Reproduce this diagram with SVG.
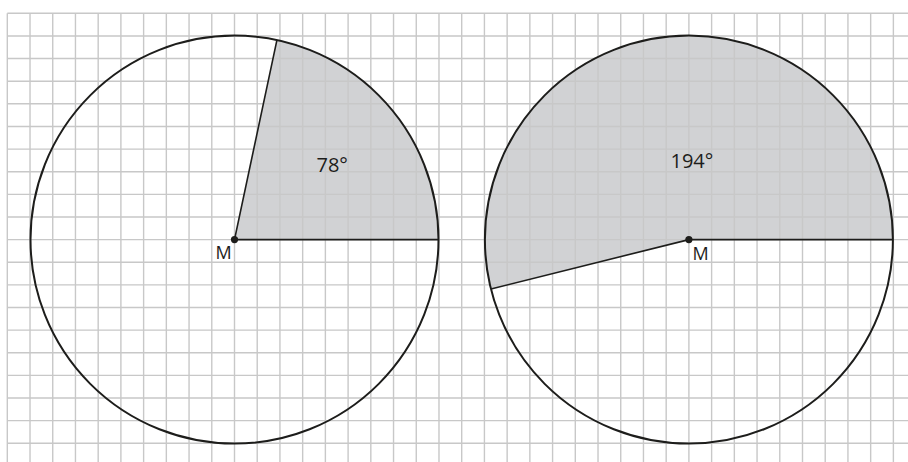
<svg xmlns="http://www.w3.org/2000/svg" width="908" height="462" viewBox="0 0 908 462">
<style>
.grid{stroke:#c8c8c8;stroke-width:1.4;fill:none}
.sector{fill:#d1d2d4;stroke:none}
.circle{fill:none;stroke:#1d1d1b;stroke-width:2}
.radius{stroke:#1d1d1b;stroke-width:1.6;fill:none}
.dot{fill:#1d1d1b}
.lbl{font-family:"Open Sans","Noto Sans",sans-serif;fill:#1d1d1b}
</style>
<rect width="908" height="462" fill="#ffffff"/>
<g id="sectors">
<path class="sector" d="M234.5,239.6 L438.5,239.6 A204,204 0 0 0 276.91,40.06 Z"/>
<path class="sector" d="M688.9,239.6 L892.9,239.6 A204,204 0 1 0 490.96,288.95 Z"/>
</g>
<g id="grid" class="grid">
<path d="M7.3,13.3V462M30.02,13.3V462M52.74,13.3V462M75.46,13.3V462M98.18,13.3V462M120.9,13.3V462M143.62,13.3V462M166.34,13.3V462M189.06,13.3V462M211.78,13.3V462M234.5,13.3V462M257.22,13.3V462M279.94,13.3V462M302.66,13.3V462M325.38,13.3V462M348.1,13.3V462M370.82,13.3V462M393.54,13.3V462M416.26,13.3V462M438.98,13.3V462M461.7,13.3V462M484.42,13.3V462M507.14,13.3V462M529.86,13.3V462M552.58,13.3V462M575.3,13.3V462M598.02,13.3V462M620.74,13.3V462M643.46,13.3V462M666.18,13.3V462M688.9,13.3V462M711.62,13.3V462M734.34,13.3V462M757.06,13.3V462M779.78,13.3V462M802.5,13.3V462M825.22,13.3V462M847.94,13.3V462M870.66,13.3V462M893.38,13.3V462"/>
<path d="M7.3,13.3H908M7.3,35.93H908M7.3,58.56H908M7.3,81.19H908M7.3,103.82H908M7.3,126.45H908M7.3,149.08H908M7.3,171.71H908M7.3,194.34H908M7.3,216.97H908M7.3,239.6H908M7.3,262.23H908M7.3,284.86H908M7.3,307.49H908M7.3,330.12H908M7.3,352.75H908M7.3,375.38H908M7.3,398.01H908M7.3,420.64H908M7.3,443.27H908"/>
</g>
<g id="circle-left">
<circle class="circle" cx="234.5" cy="239.6" r="204"/>
<path class="radius" d="M234.5,239.6 L438.5,239.6 M234.5,239.6 L276.91,40.06"/>
<circle class="dot" cx="234.5" cy="239.6" r="3.6"/>
<text class="lbl" x="316.5" y="171.5" font-size="20">78°</text>
<text class="lbl" x="215.5" y="258.5" font-size="18">M</text>
</g>
<g id="circle-right">
<circle class="circle" cx="688.9" cy="239.6" r="204"/>
<path class="radius" d="M688.9,239.6 L892.9,239.6 M688.9,239.6 L490.96,288.95"/>
<circle class="dot" cx="688.9" cy="239.6" r="3.6"/>
<text class="lbl" x="670.5" y="167.5" font-size="20">194°</text>
<text class="lbl" x="692.5" y="259.5" font-size="18">M</text>
</g>
</svg>
